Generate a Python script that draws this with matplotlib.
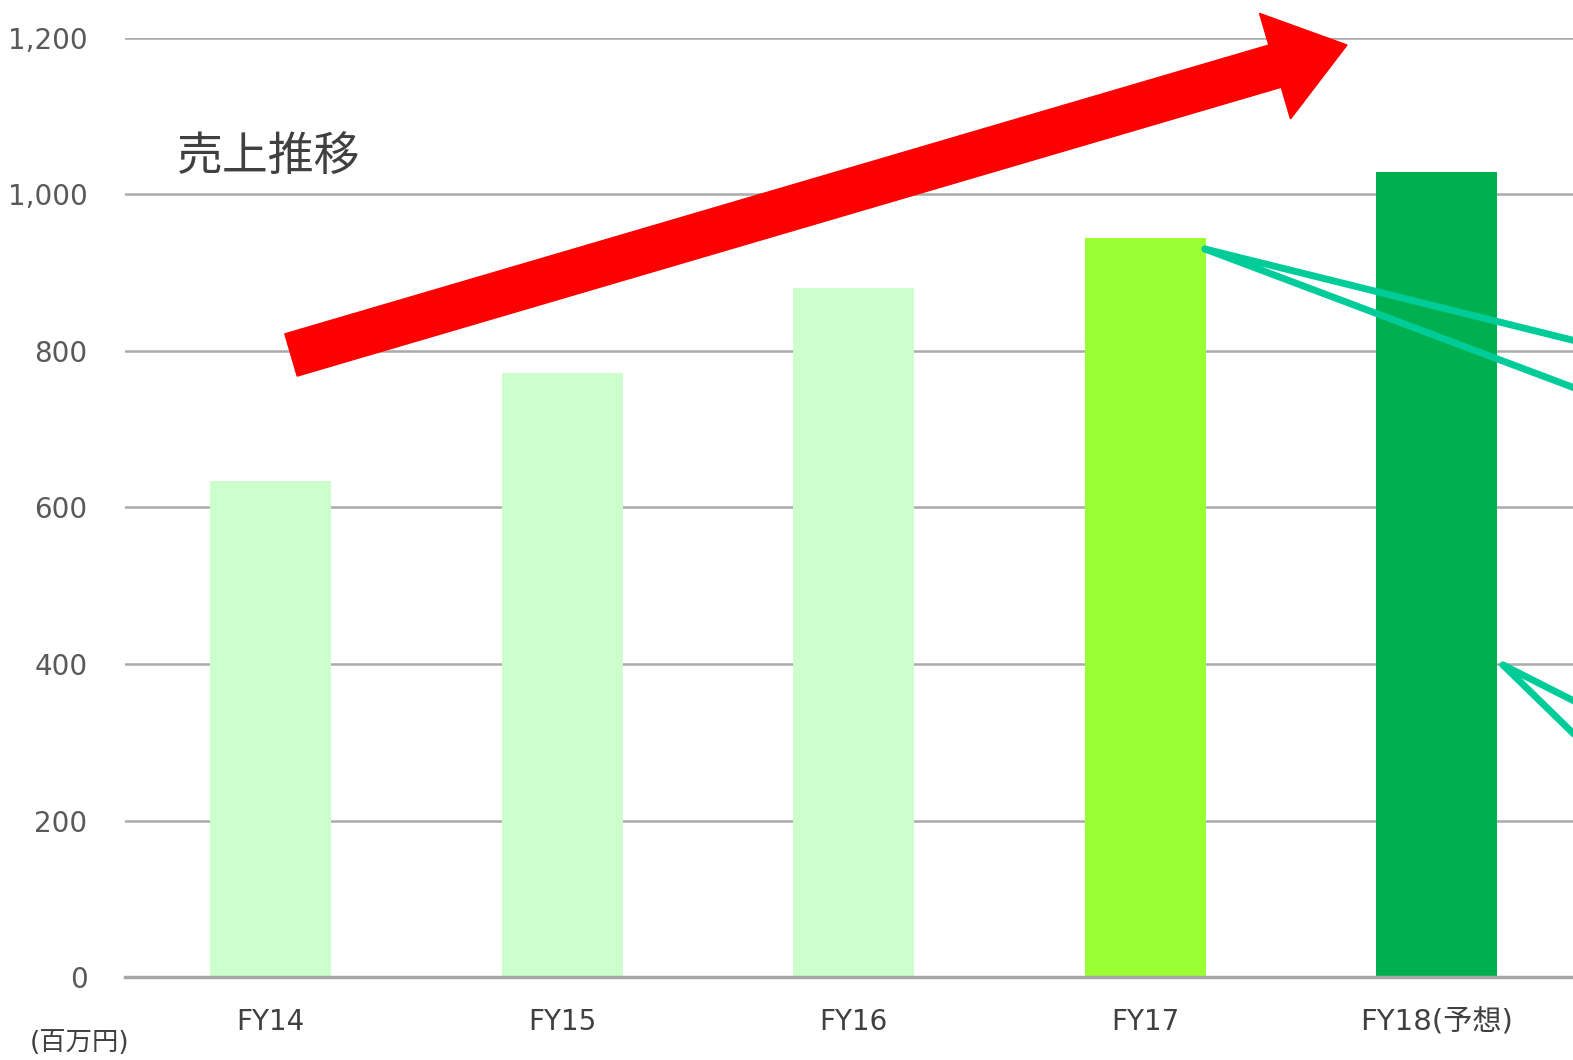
import matplotlib
matplotlib.use("Agg")
import matplotlib.pyplot as plt
from matplotlib.patches import FancyArrow
from matplotlib.lines import Line2D
from matplotlib.transforms import Affine2D

plt.rcParams['font.family'] = ['DejaVu Sans', 'Noto Sans CJK JP']

# data
years = ["FY14", "FY15", "FY16", "FY17", "FY18(予想)"]
sales = [634, 772, 880, 944, 1029]
bar_colors = ["#CCFFCC", "#CCFFCC", "#CCFFCC", "#99FF33", "#00B050"]
y_ticks = [0, 200, 400, 600, 800, 1000, 1200]

W, H = 1573, 1060
fig = plt.figure(figsize=(W / 100, H / 100), dpi=100)
ax = fig.add_axes([125 / W, (H - 977) / H, 1457.5 / W, 939 / H])

x = range(len(years))
ax.bar(x, sales, width=0.415, color=bar_colors, zorder=2)

ax.set_xlim(-0.5, 4.5)
ax.set_ylim(0, 1200)
ax.set_yticks(y_ticks)
ax.set_yticklabels([f"{v:,}" for v in y_ticks])
ax.set_xticks(list(x))
ax.set_xticklabels(years)
ax.tick_params(axis="y", length=0, pad=27, labelsize=20, labelcolor="#595959")
ax.tick_params(axis="x", length=0, pad=22, labelsize=20, labelcolor="#404040")
ax.get_xticklabels()[-1].set_fontsize(21)
ax.grid(axis="y", color="#ABABAB", linewidth=1.8, zorder=0)
for s in ["top", "right", "left"]:
    ax.spines[s].set_visible(False)
ax.spines["bottom"].set_color("#A6A6A6")
ax.spines["bottom"].set_linewidth(2.5)
ax.spines["bottom"].set_zorder(3)

# annotations in pixel units (origin at top-left)
px = Affine2D().scale(1 / W, -1 / H).translate(0, 1) + fig.transFigure

# red trend arrow
tail = (291, 355)
tip = (1347, 45)
arrow = FancyArrow(tail[0], tail[1], tip[0] - tail[0], tip[1] - tail[1],
                   width=44, head_width=110, head_length=75,
                   length_includes_head=True, color="#FF0000",
                   transform=px, zorder=5)
fig.patches.append(arrow)

# callout lines (cropped)
teal = "#00CC99"
for start, ends in [((1205, 249), [(1580, 342), (1580, 390)]),
                    ((1503, 665), [(1580, 704), (1580, 740)])]:
    for end in ends:
        fig.lines.append(Line2D([start[0], end[0]], [start[1], end[1]],
                                color=teal, linewidth=5,
                                solid_capstyle="round", transform=px, zorder=6))

fig.text(177 / W, 1 - 157 / H, "売上推移", fontsize=33, color="#404040",
         ha="left", va="center")
fig.text(30 / W, 1 - 1043 / H, "(百万円)", fontsize=19, color="#404040",
         ha="left", va="center")

fig.savefig("out.png", dpi=100)
